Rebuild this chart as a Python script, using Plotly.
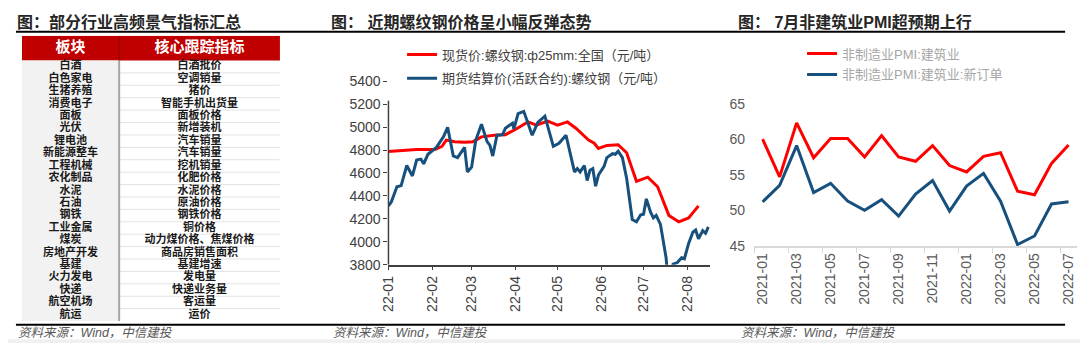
import plotly.graph_objects as go

W, H = 1080, 351
CJK = "Liberation Sans, Noto Sans CJK SC, sans-serif"

# ---------------- Table data ----------------
sectors = ["白酒", "白色家电", "生猪养殖", "消费电子", "面板", "光伏", "锂电池", "新能源整车",
           "工程机械", "农化制品", "水泥", "石油", "钢铁", "工业金属", "煤炭", "房地产开发",
           "基建", "火力发电", "快递", "航空机场", "航运"]
indicators = ["白酒批价", "空调销量", "猪价", "智能手机出货量", "面板价格", "新增装机", "汽车销量",
              "汽车销量", "挖机销量", "化肥价格", "水泥价格", "原油价格", "钢铁价格", "铜价格",
              "动力煤价格、焦煤价格", "商品房销售面积", "基建增速", "发电量", "快递业务量", "客运量", "运价"]
table_header = ["板块", "核心跟踪指标"]

# ---------------- Rebar prices ----------------
spot_dates = ["2022-01-01", "2022-01-21", "2022-02-03", "2022-02-08", "2022-02-11", "2022-02-17",
              "2022-02-24", "2022-03-02", "2022-03-08", "2022-03-17", "2022-03-25", "2022-04-01",
              "2022-04-10", "2022-04-16", "2022-04-24", "2022-05-01", "2022-05-08", "2022-05-14",
              "2022-05-23", "2022-05-27", "2022-05-30", "2022-06-05", "2022-06-13", "2022-06-19",
              "2022-06-26", "2022-07-04", "2022-07-11", "2022-07-19", "2022-07-26", "2022-08-02",
              "2022-08-09"]
spot_price = [4788, 4804, 4804, 4832, 4887, 4873, 4868, 4873, 4915, 4929, 4934, 4979,
              5045, 5017, 5053, 5017, 5045, 4990, 4887, 4859, 4813, 4840, 4846, 4776,
              4527, 4563, 4480, 4230, 4174, 4208, 4313]

fut_dates = ["2022-01-01", "2022-01-03", "2022-01-07", "2022-01-10", "2022-01-14", "2022-01-18",
             "2022-01-21", "2022-01-24", "2022-01-26", "2022-01-29", "2022-02-04", "2022-02-09",
             "2022-02-12", "2022-02-16", "2022-02-19", "2022-02-24", "2022-02-26", "2022-03-01",
             "2022-03-04", "2022-03-08", "2022-03-12", "2022-03-14", "2022-03-16", "2022-03-19",
             "2022-03-23", "2022-03-25", "2022-03-30", "2022-03-31", "2022-04-03", "2022-04-07",
             "2022-04-13", "2022-04-17", "2022-04-22", "2022-04-28", "2022-05-02", "2022-05-07",
             "2022-05-13", "2022-05-15", "2022-05-17", "2022-05-20", "2022-05-22", "2022-05-24",
             "2022-05-26", "2022-05-28", "2022-05-30", "2022-06-03", "2022-06-05", "2022-06-09",
             "2022-06-11", "2022-06-13", "2022-06-16", "2022-06-19", "2022-06-23", "2022-06-26",
             "2022-06-29", "2022-07-01", "2022-07-03", "2022-07-06", "2022-07-08", "2022-07-10",
             "2022-07-13", "2022-07-15", "2022-07-17", "2022-07-18", "2022-07-20", "2022-07-22",
             "2022-07-25", "2022-07-28", "2022-07-30", "2022-08-02", "2022-08-05", "2022-08-07",
             "2022-08-09", "2022-08-12", "2022-08-14", "2022-08-16"]
fut_price = [4313, 4347, 4480, 4490, 4665, 4574, 4713, 4721, 4680, 4763, 4823, 4915,
             4998, 4748, 4734, 4823, 4609, 4651, 4887, 5025, 4873, 4840, 4748, 4929,
             4934, 4990, 5034, 4984, 5117, 5137, 4929, 5040, 5095, 4832, 4859, 4929,
             4609, 4638, 4609, 4665, 4534, 4624, 4638, 4485, 4582, 4657, 4734, 4768,
             4763, 4790, 4734, 4555, 4194, 4174, 4235, 4241, 4374, 4258, 4208, 4230,
             4152, 4014, 3861, 3720, 3700, 3806, 3819, 3861, 3852, 3986, 4083, 4102,
             4027, 4097, 4074, 4130]

# ---------------- Construction PMI ----------------
pmi_months = ["2021-01", "2021-02", "2021-03", "2021-04", "2021-05", "2021-06", "2021-07",
              "2021-08", "2021-09", "2021-10", "2021-11", "2021-12", "2022-01", "2022-02",
              "2022-03", "2022-04", "2022-05", "2022-06", "2022-07"]
pmi_construction = [60.0, 54.7, 62.3, 57.4, 60.1, 60.1, 57.5, 60.5, 57.5, 56.9, 59.1, 56.3,
                    55.4, 57.6, 58.1, 52.7, 52.2, 56.6, 59.2]
pmi_new_orders = [51.2, 53.5, 59.1, 52.5, 53.8, 51.3, 50.0, 51.5, 49.2, 52.3, 54.2, 49.9,
                  53.4, 55.2, 51.3, 45.2, 46.4, 50.9, 51.2]

RED = "#FF0000"
BLUE = "#17507D"

fig = go.Figure()

# ---------------- Table drawn on its own hidden axes (units = px) ----------------
TBL_W, COL1_W, HEAD_H, ROW_H = 260, 98, 26, 13
n = len(sectors)
TBL_H = HEAD_H + ROW_H * n
row_centers = [HEAD_H + ROW_H * (i + 0.5) for i in range(n)]
col_centers = [COL1_W / 2, COL1_W + (TBL_W - COL1_W) / 2]

fig.add_trace(go.Scatter(x=col_centers, y=[HEAD_H / 2] * 2, mode="text",
                         text=[f"<b>{h}</b>" for h in table_header],
                         textfont=dict(family=CJK, size=15, color="white"),
                         xaxis="x3", yaxis="y3", showlegend=False, hoverinfo="skip"))
fig.add_trace(go.Scatter(x=[col_centers[0]] * n, y=row_centers, mode="text",
                         text=[f"<b>{s}</b>" for s in sectors],
                         textfont=dict(family=CJK, size=11, color="#1A1A1A"),
                         xaxis="x3", yaxis="y3", showlegend=False, hoverinfo="skip"))
fig.add_trace(go.Scatter(x=[col_centers[1]] * n, y=row_centers, mode="text",
                         text=[f"<b>{s}</b>" for s in indicators],
                         textfont=dict(family=CJK, size=11, color="#1A1A1A"),
                         xaxis="x3", yaxis="y3", showlegend=False, hoverinfo="skip"))

# ---------------- Rebar chart ----------------
fig.add_trace(go.Scatter(x=spot_dates, y=spot_price, mode="lines",
                         line=dict(color=RED, width=3),
                         name="现货价:螺纹钢:ф25mm:全国（元/吨）",
                         xaxis="x", yaxis="y", legend="legend", legendgroup="a"))
fig.add_trace(go.Scatter(x=fut_dates, y=fut_price, mode="lines",
                         line=dict(color=BLUE, width=3),
                         name="期货结算价(活跃合约):螺纹钢（元/吨）",
                         xaxis="x", yaxis="y", legend="legend", legendgroup="b"))

# ---------------- PMI chart ----------------
fig.add_trace(go.Scatter(x=pmi_months, y=pmi_construction, mode="lines",
                         line=dict(color=RED, width=3),
                         name="非制造业PMI:建筑业",
                         xaxis="x2", yaxis="y2", legend="legend2", legendgroup="c"))
fig.add_trace(go.Scatter(x=pmi_months, y=pmi_new_orders, mode="lines",
                         line=dict(color=BLUE, width=3),
                         name="非制造业PMI:建筑业:新订单",
                         xaxis="x2", yaxis="y2", legend="legend2", legendgroup="d"))

tickfont_mid = dict(family="Liberation Sans, Arial", size=14, color="#404040")
tickfont_right = dict(family="Liberation Sans, Arial", size=14, color="#595959")

fig.update_layout(
    width=W, height=H,
    margin=dict(l=0, r=0, t=0, b=0),
    paper_bgcolor="white", plot_bgcolor="rgba(0,0,0,0)",
    xaxis=dict(domain=[383.3 / W, 707 / W], anchor="y", type="date",
               range=["2022-01-01", "2022-08-17"], tick0="2022-01-01", dtick="M1",
               tickformat="%y-%m", tickangle=-90, ticks="outside", ticklen=4,
               tickcolor="#404040", showline=True, linecolor="#404040", linewidth=1.5,
               tickfont=tickfont_mid, showgrid=False, zeroline=False),
    yaxis=dict(domain=[1 - 269 / H, 1 - 76.7 / H], anchor="x", range=[3800, 5400], dtick=200,
               ticks="outside", ticklen=4, tickcolor="#404040", showline=False,
               tickfont=tickfont_mid, showgrid=False, zeroline=False),
    xaxis2=dict(domain=[751.7 / W, 1077 / W], anchor="y2", type="category",
                range=[-0.5, 18.5], dtick=2, tick0=0, tickson="boundaries",
                tickangle=-90, ticks="outside", ticklen=5, tickcolor="#D9D9D9",
                showline=True, linecolor="#D9D9D9", linewidth=1.5,
                tickfont=tickfont_right, showgrid=False, zeroline=False),
    yaxis2=dict(domain=[1 - 249.3 / H, 1 - 100.2 / H], anchor="x2", range=[45, 65], dtick=5,
                ticks="", showline=False, tickfont=tickfont_right, showgrid=False,
                zeroline=False, ticklabelstandoff=8),
    xaxis3=dict(domain=[14 / W, 274 / W], anchor="y3", range=[0, TBL_W], visible=False,
                fixedrange=True),
    yaxis3=dict(domain=[1 - 328 / H, 1 - 29 / H], anchor="x3", range=[TBL_H, 0], visible=False,
                fixedrange=True),
    legend=dict(x=397 / W, y=1 - 33 / H, xanchor="left", yanchor="top",
                bgcolor="rgba(255,255,255,1)", tracegroupgap=4,
                font=dict(family=CJK, size=13, color="#404040")),
    legend2=dict(x=800 / W, y=1 - 32 / H, xanchor="left", yanchor="top",
                 bgcolor="rgba(0,0,0,0)", tracegroupgap=1,
                 font=dict(family=CJK, size=13, color="#A6A6A6")),
    showlegend=True,
)

title_font = dict(family=CJK, size=16, color="#262626")
src_font = dict(family=CJK, size=12.5, color="#595959")
annotations = [
    dict(text="<b>图：部分行业高频景气指标汇总</b>", x=7 / W, y=1 - 15 / H),
    dict(text="<b>图： 近期螺纹钢价格呈小幅反弹态势</b>", x=323 / W, y=1 - 15 / H),
    dict(text="<b>图： 7月非建筑业PMI超预期上行</b>", x=733 / W, y=1 - 15 / H),
]
for a in annotations:
    a.update(xref="paper", yref="paper", xanchor="left", yanchor="middle",
             showarrow=False, font=title_font)
for sx in [8, 325, 736]:
    annotations.append(dict(text="<i>资料来源：Wind，中信建投</i>", x=sx / W, y=1 - 341 / H,
                            xref="paper", yref="paper", xanchor="left", yanchor="middle",
                            showarrow=False, font=src_font))
fig.update_layout(annotations=annotations)

shapes = [
    dict(type="line", xref="paper", yref="paper", x0=8 / W, x1=1065 / W,
         y0=1 - 25 / H, y1=1 - 25 / H, line=dict(color="#000000", width=2)),
    dict(type="line", xref="paper", yref="paper", x0=8 / W, x1=1065 / W,
         y0=1 - 332 / H, y1=1 - 332 / H, line=dict(color="#000000", width=2)),
    dict(type="rect", xref="paper", yref="paper", x0=0, x1=1, y0=0, y1=1 - 347 / H,
         fillcolor="#F0F0F0", line=dict(width=0), layer="below"),
    dict(type="line", xref="x domain", yref="y", x0=0, x1=0, y0=3800, y1=5230,
         line=dict(color="#404040", width=1.5)),
    # table styling
    dict(type="rect", xref="x3", yref="y3", x0=0, x1=TBL_W, y0=0, y1=HEAD_H,
         fillcolor="#C00000", line=dict(width=0), layer="below"),
    dict(type="rect", xref="x3", yref="y3", x0=0, x1=COL1_W, y0=HEAD_H, y1=TBL_H,
         fillcolor="#F2F2F2", line=dict(width=0), layer="below"),
]
for i in range(1, n):
    yb = HEAD_H + ROW_H * i
    shapes.append(dict(type="line", xref="x3", yref="y3", x0=COL1_W, x1=TBL_W, y0=yb, y1=yb,
                       line=dict(color="#E3E3E3", width=1), layer="below"))
shapes.append(dict(type="line", xref="x3", yref="y3", x0=COL1_W, x1=COL1_W, y0=HEAD_H, y1=TBL_H,
                   line=dict(color="#A6A6A6", width=2), layer="below"))
shapes.append(dict(type="line", xref="x3", yref="y3", x0=COL1_W, x1=COL1_W, y0=0, y1=HEAD_H,
                   line=dict(color="#8B0000", width=1), layer="below"))
fig.update_layout(shapes=shapes)

fig.write_html("out.html", config={"displayModeBar": False})
